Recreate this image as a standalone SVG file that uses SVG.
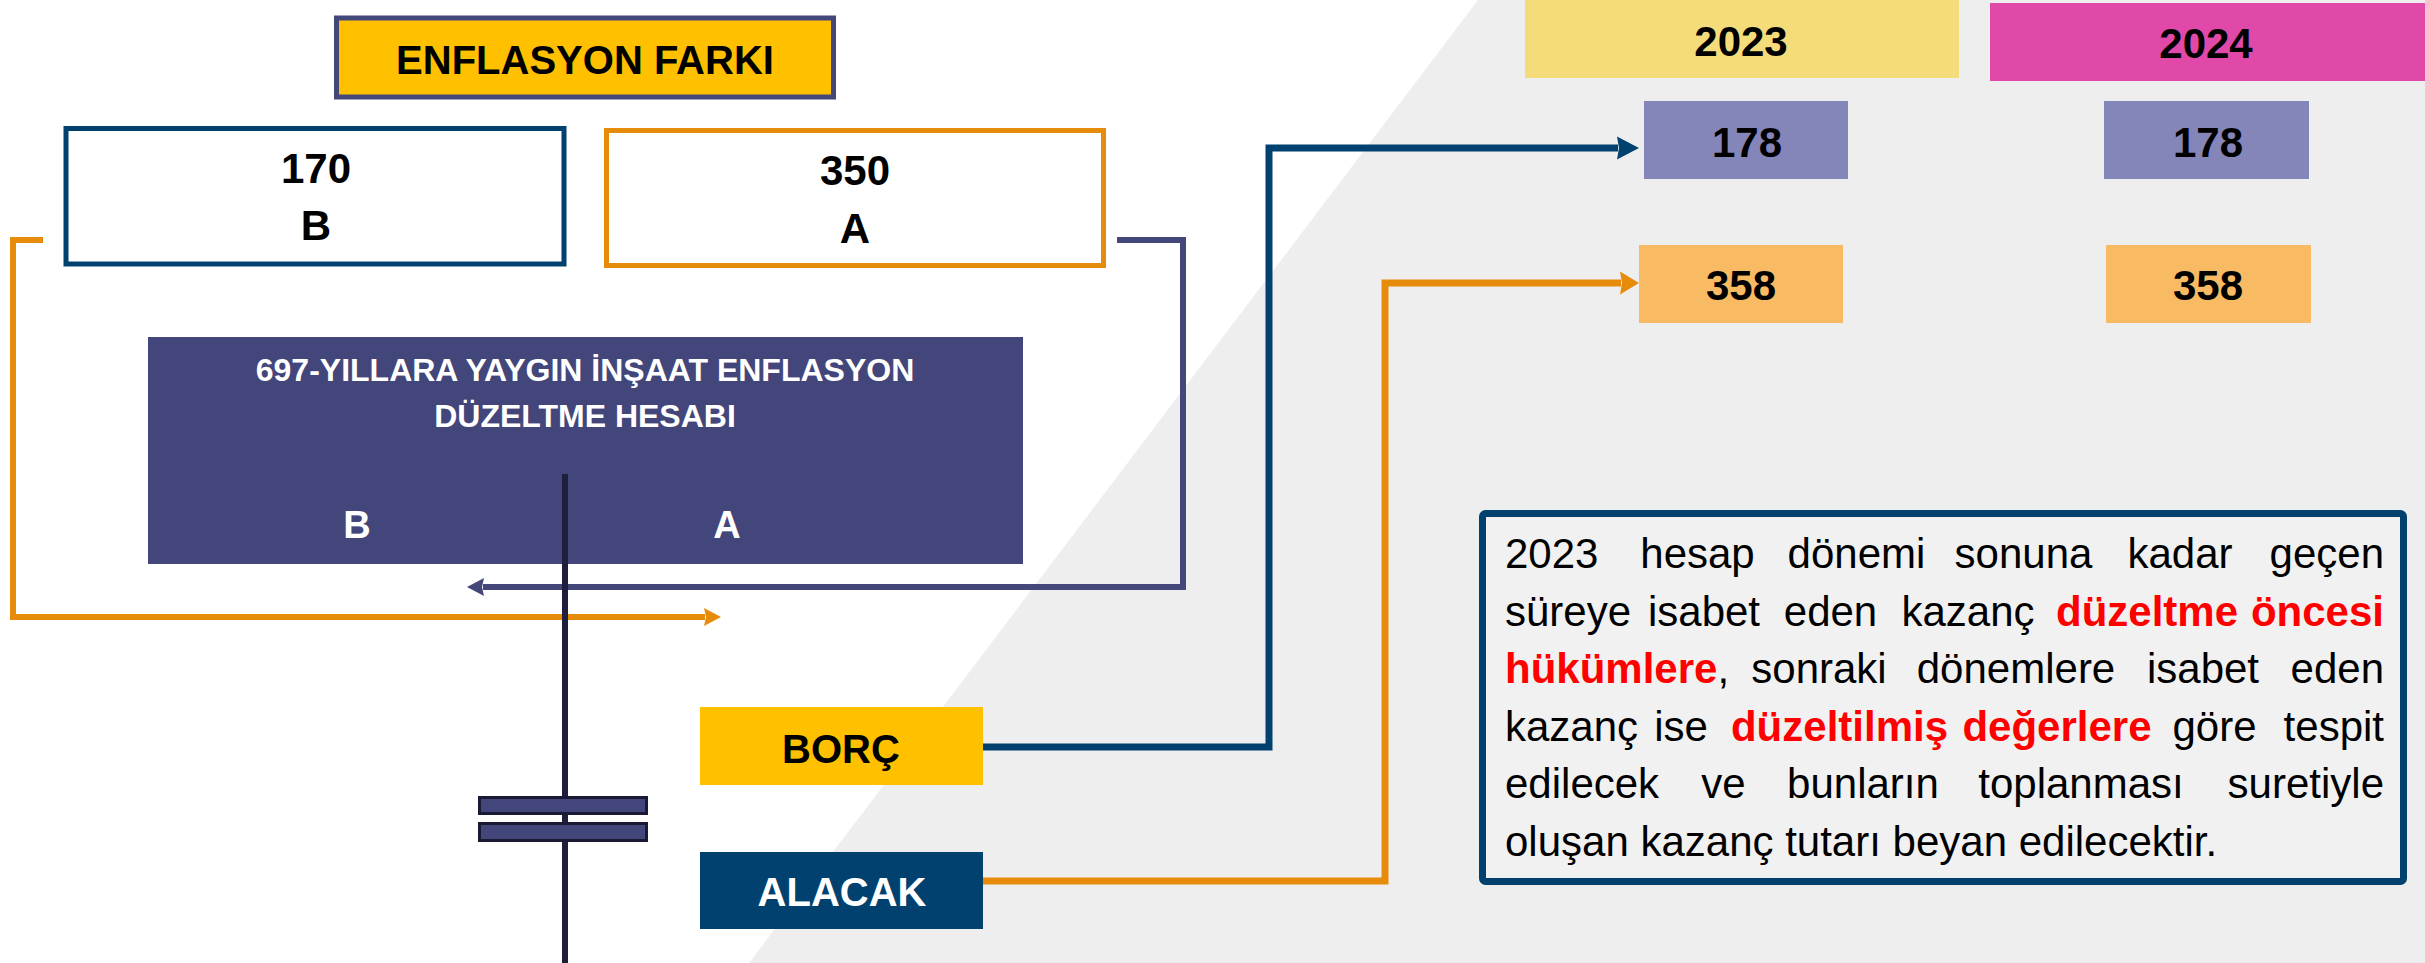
<svg xmlns="http://www.w3.org/2000/svg" width="2425" height="963" viewBox="0 0 2425 963">
<style>
.b{font-family:"Liberation Sans",Arial,sans-serif;font-weight:bold;text-anchor:middle}
.p{font-family:"Liberation Sans",Arial,sans-serif;font-size:42px;fill:#000}
.r{fill:#FF0000;font-weight:bold}
.m{text-anchor:middle}
.e{text-anchor:end}
.conn{fill:none;stroke-linejoin:miter}
</style>
<defs>
<marker id="mNavy" markerUnits="userSpaceOnUse" markerWidth="20" markerHeight="20" refX="1" refY="9" orient="auto" overflow="visible"><path d="M0,0 L17,9 L0,18 L2,9 Z" fill="#44477A"/></marker>
<marker id="mOrS" markerUnits="userSpaceOnUse" markerWidth="20" markerHeight="20" refX="1" refY="9" orient="auto" overflow="visible"><path d="M0,0 L17,9 L0,18 L2,9 Z" fill="#E68B0A"/></marker>
<marker id="mBlue" markerUnits="userSpaceOnUse" markerWidth="26" markerHeight="26" refX="1" refY="11.5" orient="auto" overflow="visible"><path d="M0,0 L22,11.5 L0,23 L2,11.5 Z" fill="#00416F"/></marker>
<marker id="mOrL" markerUnits="userSpaceOnUse" markerWidth="26" markerHeight="26" refX="1" refY="11.5" orient="auto" overflow="visible"><path d="M0,0 L19,11.5 L0,23 L2,11.5 Z" fill="#E68B0A"/></marker>
</defs>
<rect x="0" y="0" width="2425" height="963" fill="#FFFFFF"/>
<polygon points="1478,0 2425,0 2425,963 749,963" fill="#EEEEEE"/>

<g id="enflasyon-farki">
<rect x="336.5" y="18" width="497" height="79" fill="#FFC000" stroke="#44477A" stroke-width="5"/>
<text class="b" x="585" y="74" font-size="40">ENFLASYON FARKI</text>
</g>
<g id="box-170">
<rect x="66" y="128.5" width="498" height="135.5" fill="#FFFFFF" stroke="#00416F" stroke-width="5"/>
<text class="b" x="316" y="183" font-size="42">170</text>
<text class="b" x="316" y="240" font-size="42">B</text>
</g>
<g id="box-350">
<rect x="606.5" y="130.5" width="497" height="135" fill="#FFFFFF" stroke="#E68B0A" stroke-width="5"/>
<text class="b" x="855" y="185" font-size="42">350</text>
<text class="b" x="855" y="243" font-size="42">A</text>
</g>
<g id="hesap-697">
<rect x="148" y="337" width="875" height="227" fill="#43467A"/>
<text class="b" x="585" y="381" font-size="32" fill="#FFFFFF">697-YILLARA YAYGIN İNŞAAT ENFLASYON</text>
<text class="b" x="585" y="427" font-size="32" fill="#FFFFFF">DÜZELTME HESABI</text>
<text class="b" x="357" y="538" font-size="38" fill="#FFFFFF">B</text>
<text class="b" x="727" y="538" font-size="38" fill="#FFFFFF">A</text>
</g>

<g id="connectors">
<path class="conn" d="M43,240 H13 V617 H705" stroke="#E68B0A" stroke-width="6" marker-end="url(#mOrS)"/>
<path class="conn" d="M1117,240 H1183 V587 H483" stroke="#44477A" stroke-width="6" marker-end="url(#mNavy)"/>
<path class="conn" d="M983,747 H1269 V148 H1618" stroke="#00416F" stroke-width="7" marker-end="url(#mBlue)"/>
<path class="conn" d="M983,881 H1385 V283 H1621" stroke="#E68B0A" stroke-width="7" marker-end="url(#mOrL)"/>
</g>

<g id="t-account">
<line x1="565" y1="474" x2="565" y2="963" stroke="#1F1E3D" stroke-width="6"/>
<rect x="479.5" y="797.5" width="167" height="16" fill="#43467A" stroke="#1B1A35" stroke-width="3"/>
<rect x="479.5" y="823.5" width="167" height="17" fill="#43467A" stroke="#1B1A35" stroke-width="3"/>
</g>

<g id="borc">
<rect x="700" y="707" width="283" height="78" fill="#FFC000"/>
<text class="b" x="841" y="763" font-size="40">BORÇ</text>
</g>
<g id="alacak">
<rect x="700" y="852" width="283" height="77" fill="#00416F"/>
<text class="b" x="842" y="906" font-size="40" fill="#FFFFFF">ALACAK</text>
</g>

<g id="year-2023">
<rect x="1525" y="0" width="434" height="78" fill="#F5DC7B"/>
<text class="b" x="1741" y="56" font-size="42">2023</text>
</g>
<g id="year-2024">
<rect x="1990" y="3" width="435" height="78" fill="#E149A9"/>
<text class="b" x="2206" y="58" font-size="42">2024</text>
</g>
<g id="val-178-2023">
<rect x="1644" y="101" width="204" height="78" fill="#8486BA"/>
<text class="b" x="1747" y="157" font-size="42">178</text>
</g>
<g id="val-178-2024">
<rect x="2104" y="101" width="205" height="78" fill="#8486BA"/>
<text class="b" x="2208" y="157" font-size="42">178</text>
</g>
<g id="val-358-2023">
<rect x="1639" y="245" width="204" height="78" fill="#F8BB63"/>
<text class="b" x="1741" y="300" font-size="42">358</text>
</g>
<g id="val-358-2024">
<rect x="2106" y="245" width="205" height="78" fill="#F8BB63"/>
<text class="b" x="2208" y="300" font-size="42">358</text>
</g>

<g id="note">
<rect x="1482.5" y="513.5" width="921" height="368" rx="3" fill="#F1F1F1" stroke="#00416F" stroke-width="7"/>
<g class="p">
<text x="1505" y="568">2023</text>
<text class="m" x="1697.5" y="568">hesap</text>
<text class="m" x="1856.5" y="568">dönemi</text>
<text class="m" x="2023.5" y="568">sonuna</text>
<text class="m" x="2180" y="568">kadar</text>
<text class="e" x="2384" y="568">geçen</text>

<text x="1505" y="626">süreye</text>
<text class="m" x="1704" y="626">isabet</text>
<text class="m" x="1830.5" y="626">eden</text>
<text class="m" x="1968" y="626">kazanç</text>
<text class="m r" x="2147" y="626">düzeltme</text>
<text class="e r" x="2384" y="626">öncesi</text>

<text x="1505" y="683"><tspan class="r">hükümlere</tspan>,</text>
<text class="m" x="1819" y="683">sonraki</text>
<text class="m" x="2016" y="683">dönemlere</text>
<text class="m" x="2203" y="683">isabet</text>
<text class="e" x="2384" y="683">eden</text>

<text x="1505" y="741">kazanç</text>
<text class="m" x="1681" y="741">ise</text>
<text class="m r" x="1839.5" y="741">düzeltilmiş</text>
<text class="m r" x="2057" y="741">değerlere</text>
<text class="m" x="2214.5" y="741">göre</text>
<text class="e" x="2384" y="741">tespit</text>

<text x="1505" y="798">edilecek</text>
<text class="m" x="1723.5" y="798">ve</text>
<text class="m" x="1863" y="798">bunların</text>
<text class="m" x="2081" y="798">toplanması</text>
<text class="e" x="2384" y="798">suretiyle</text>

<text x="1505" y="856">oluşan kazanç tutarı beyan edilecektir.</text>
</g>
</g>
</svg>
